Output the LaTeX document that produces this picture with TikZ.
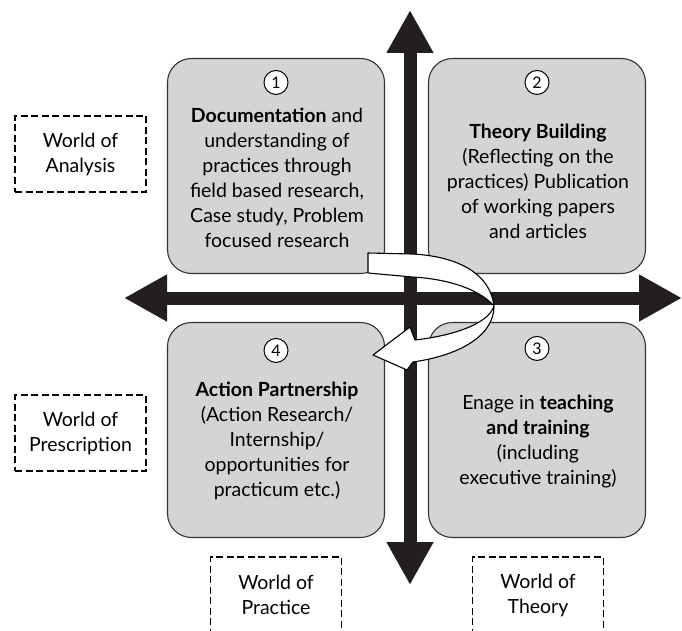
\documentclass[tikz,border=0pt]{standalone}
\usepackage{fontspec}
\setmainfont{Lato}
\usetikzlibrary{arrows.meta,positioning}
\definecolor{boxgray}{RGB}{212,212,212}
\definecolor{inkblack}{RGB}{35,31,32}
\tikzset{
  quad_box/.style = {draw=black!80, fill=boxgray, rounded corners=24pt, line width=1.1pt, minimum width=217pt, minimum height=215pt, inner sep=0pt},
  num_c/.style = {circle, draw=black, fill=white, line width=1pt, inner sep=0pt, minimum size=24pt, font=\fontsize{16}{16}\selectfont},
  quad_text/.style = {align=center, inner sep=0pt, font=\fontsize{19.5}{25}\selectfont},
  world_box/.style = {draw=black, dash pattern=on 7pt off 3.5pt, line width=1.1pt, minimum width=131pt, minimum height=76pt, inner sep=0pt, align=center, font=\fontsize{19.5}{25}\selectfont},
  axis_arr/.style = {line width=13pt, draw=inkblack, {Triangle[length=43pt,width=44pt]}-{Triangle[length=43pt,width=44pt]}},
  ribbon/.style = {draw=black, fill=white, line width=1.1pt, line join=round}
}
\begin{document}
\begin{tikzpicture}[x=1pt,y=-1pt]
\useasboundingbox (0,0) rectangle (682,631);
\clip (0,0) rectangle (682,631);
\node [quad_box] (q1) at (276,166) {};
\node [quad_box] (q2) at (537,166) {};
\node [quad_box] (q3) at (537,430) {};
\node [quad_box] (q4) at (276,430) {};
\coordinate (ax_top) at (410,10);
\coordinate (ax_bot) at (410,585);
\coordinate (ax_left) at (124,298);
\coordinate (ax_right) at (682,298);
\draw [axis_arr] (ax_top) -- (ax_bot);
\draw [axis_arr] (ax_left) -- (ax_right);
\draw [ribbon] (368,253) -- (412,254)
	.. controls (455,256) and (490,272) .. (494,306)
	.. controls (488,325) and (450,336) .. (415,340)
	-- (410,327) -- (373,355) -- (407,370) -- (413,362)
	.. controls (455,356) and (494,338) .. (494,306)
	.. controls (480,290) and (450,279) .. (412,277)
	-- (368,273) -- cycle;
\node [num_c, below=12pt of q1.north] (n1) {1};
\node [num_c, below=12pt of q2.north] (n2) {2};
\node [num_c, below=14pt of q3.north] (n3) {3};
\node [num_c, below=16pt of q4.north] (n4) {4};
\node [quad_text] (t1) at (277,178) {\textbf{Documentation} and\\understanding of\\practices through\\field based research,\\Case study, Problem\\focused research};
\node [quad_text] (t2) at (538,181) {\textbf{Theory Building}\\(Reflecting on the\\practices) Publication\\of working papers\\and articles};
\node [quad_text] (t3) at (538,442) {Enage in \textbf{teaching}\\\textbf{and training}\\(including\\executive training)};
\node [quad_text] (t4) at (277,441) {\textbf{Action Partnership}\\(Action Research/\\Internship/\\opportunities for\\practicum etc.)};
\node [world_box] (w_ana) at (80.5,154) {World of\\Analysis};
\node [world_box] (w_pre) at (80.5,433) {World of\\Prescription};
\node [world_box] (w_pra) at (276,595) {World of\\Practice};
\node [world_box] (w_the) at (538,595) {World of\\Theory};
\end{tikzpicture}
\end{document}
